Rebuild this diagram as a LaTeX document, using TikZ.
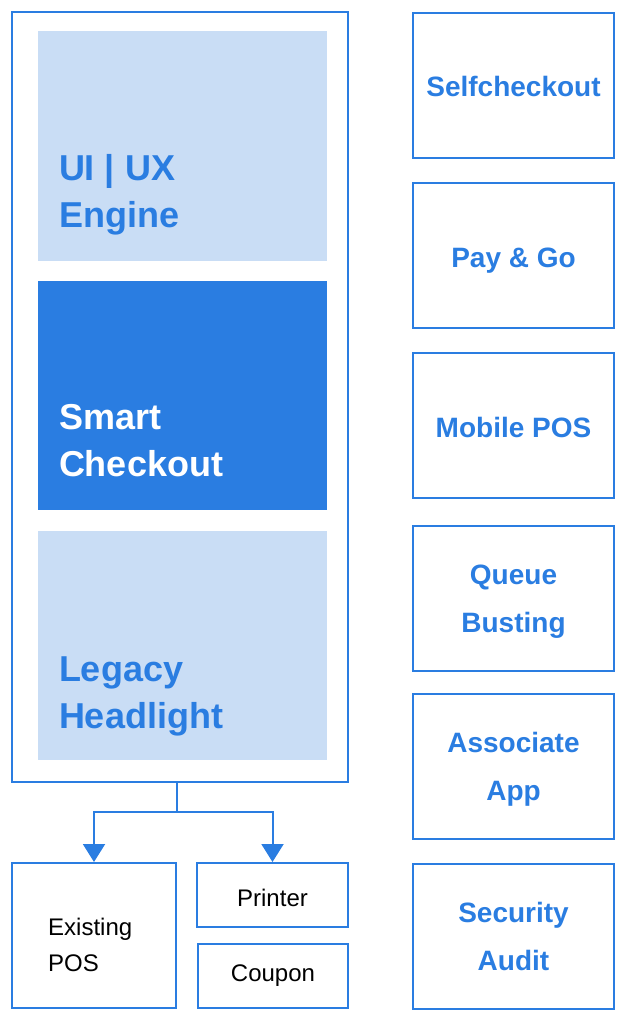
\documentclass[tikz,border=0pt]{standalone}
\usepackage{fontspec}
\setmainfont{Liberation Sans}
\usetikzlibrary{arrows.meta,calc}

\definecolor{brandblue}{HTML}{2A7DE1}
\definecolor{paleblue}{HTML}{C9DDF5}

\begin{document}
\begin{tikzpicture}[x=1pt,y=-1pt,
  frame/.style={draw=brandblue,line width=2pt,inner sep=0pt},
  layer/.style={inner sep=0pt,minimum width=289pt,minimum height=229pt},
  layertext/.style={anchor=base west,align=left,inner sep=0pt,font=\bfseries\fontsize{36}{47}\selectfont},
  channel/.style={frame,minimum width=201pt,minimum height=145pt,align=center,text=brandblue,
    font=\bfseries\fontsize{28}{48}\selectfont,text depth=-3pt,execute at begin node={\rule{0pt}{23pt}}},
  device/.style={frame,font=\fontsize{24}{35}\selectfont},
  link/.style={draw=brandblue,line width=2pt,-{Triangle[width=22pt,length=18pt]}}]

\useasboundingbox (0,0) rectangle (626,1024);

% core stack
\node[frame,minimum width=336pt,minimum height=770pt] (core) at (180,397) {};
\node[layer,fill=paleblue] (ui) at (182.5,146) {};
\node[layer,fill=brandblue] (smart) at (182.5,395.5) {};
\node[layer,fill=paleblue] (legacy) at (182.5,645.5) {};

\node[layertext,text=brandblue] (uitext) at ($(ui.south west)+(21pt,33pt)$) {UI | UX\\Engine};
\node[layertext,text=white] (smarttext) at ($(smart.south west)+(21pt,34pt)$) {Smart\\Checkout};
\node[layertext,text=brandblue] (legacytext) at ($(legacy.south west)+(21pt,32pt)$) {Legacy\\Headlight};

% channels on the right
\foreach \y/\name/\txt in {85.5/self/Selfcheckout, 255.5/paygo/{Pay \& Go}, 425.5/mpos/Mobile POS,
    598.5/queue/{Queue\\Busting}, 766.5/assoc/{Associate\\App}, 936.5/audit/{Security\\Audit}}
  \node[channel] (\name) at (513.5,\y) {\txt};

% devices below
\node[device,minimum width=164pt,minimum height=145pt] (existing) at (94,935.5) {};
\node[anchor=base west,align=left,inner sep=0pt,font=\fontsize{24}{36}\selectfont] (existingtext) at (48,971) {Existing\\POS};
\node[device,minimum width=151pt,minimum height=64pt,text height=23pt,text depth=0pt] (printer) at (272.5,895) {Printer};
\node[device,minimum width=150pt,minimum height=64pt] (coupon) at (273,976) {Coupon};

\coordinate (split) at (177,812);
\draw[brandblue,line width=2pt] (core.south -| split) -- (split);
\draw[link] (split) -| (existing.north);
\draw[link] (split) -| (printer.north);

\end{tikzpicture}
\end{document}
